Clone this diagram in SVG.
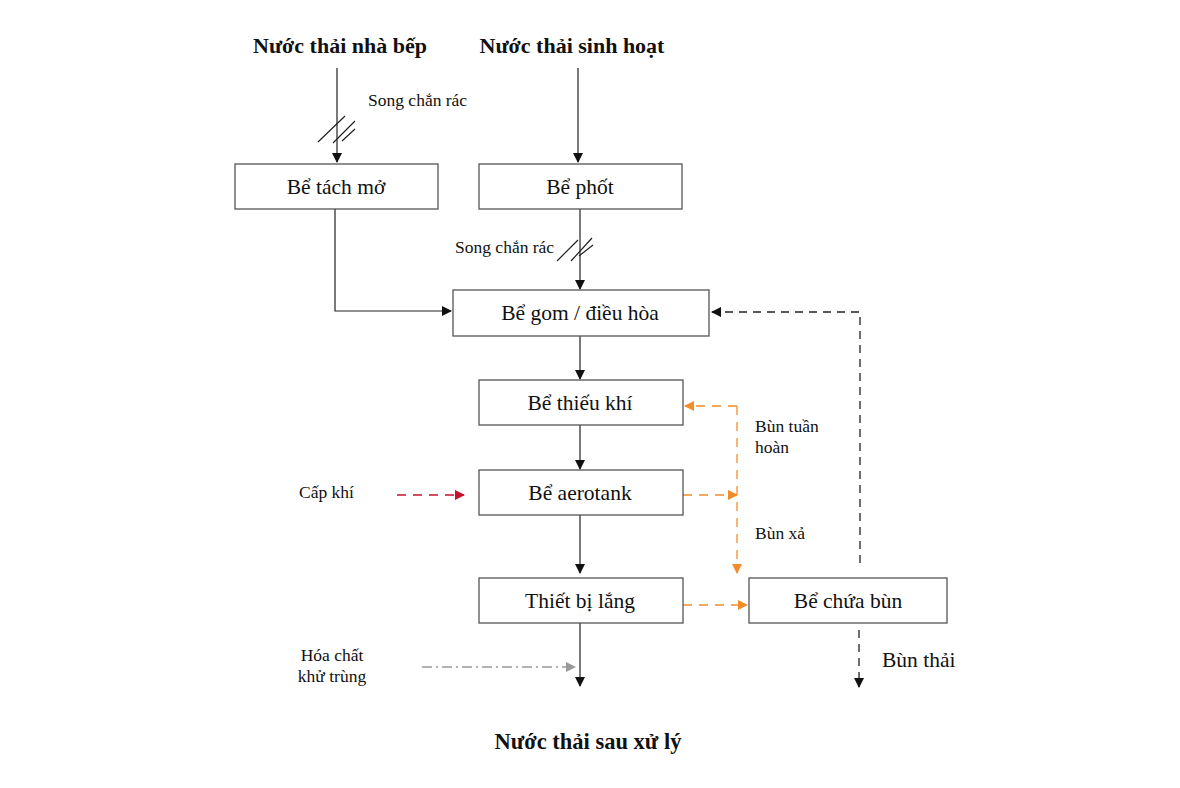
<svg xmlns="http://www.w3.org/2000/svg" width="1180" height="788" viewBox="0 0 1180 788">
<style>
text{font-family:"Liberation Serif","Times New Roman",serif;fill:#111}
.t{font-size:22px;font-weight:bold;text-anchor:middle}
.b{font-size:21.5px;text-anchor:middle}
.s{font-size:17.5px}
.box{fill:#fff;stroke:#555;stroke-width:1.3}
.ln{fill:none;stroke:#222;stroke-width:1.2}
.or{fill:none;stroke:#f28c28;stroke-width:1.3;stroke-dasharray:9 7}
.bd{fill:none;stroke:#222;stroke-width:1.3;stroke-dasharray:8 6}
</style>
<defs>
<marker id="ak" markerWidth="10" markerHeight="10" refX="9" refY="5" orient="auto" markerUnits="userSpaceOnUse"><path d="M0,0 L10,5 L0,10 z" fill="#111"/></marker>
<marker id="ao" markerWidth="10" markerHeight="10" refX="9" refY="5" orient="auto" markerUnits="userSpaceOnUse"><path d="M0,0 L10,5 L0,10 z" fill="#f28c28"/></marker>
<marker id="ar" markerWidth="10" markerHeight="10" refX="9" refY="5" orient="auto" markerUnits="userSpaceOnUse"><path d="M0,0 L10,5 L0,10 z" fill="#c8102e"/></marker>
<marker id="ag" markerWidth="10" markerHeight="10" refX="9" refY="5" orient="auto" markerUnits="userSpaceOnUse"><path d="M0,0 L10,5 L0,10 z" fill="#999"/></marker>
</defs>
<rect width="1180" height="788" fill="#fff"/>
<g id="labels">
<text class="t" x="340" y="53">Nước thải nhà bếp</text>
<text class="t" x="572" y="53">Nước thải sinh hoạt</text>
<text class="t" x="588" y="749" style="font-size:22.5px">Nước thải sau xử lý</text>
<text class="s" x="368" y="106">Song chắn rác</text>
<text class="s" x="455" y="253">Song chắn rác</text>
<text class="s" x="755" y="432">Bùn tuần</text>
<text class="s" x="755" y="453">hoàn</text>
<text class="s" x="755" y="539">Bùn xả</text>
<text class="s" x="299" y="498">Cấp khí</text>
<text class="s" x="332" y="661" text-anchor="middle">Hóa chất</text>
<text class="s" x="332" y="682" text-anchor="middle">khử trùng</text>
<text x="882" y="667" style="font-size:21.5px">Bùn thải</text>
</g>
<g id="connectors">
<path class="ln" d="M337,68 V162" marker-end="url(#ak)"/>
<path class="ln" d="M318,142 L345,116 M333,143 L355,121 M342,141 L355,129"/>
<path class="ln" d="M578,68 V162" marker-end="url(#ak)"/>
<path class="ln" d="M335,209 V311 H451" marker-end="url(#ak)"/>
<path class="ln" d="M580,209 V289" marker-end="url(#ak)"/>
<path class="ln" d="M557,261 L578,240 M571,261 L592,238 M579,256 L593,245"/>
<path class="ln" d="M580,336 V379" marker-end="url(#ak)"/>
<path class="ln" d="M580,425 V469" marker-end="url(#ak)"/>
<path class="ln" d="M580,515 V573" marker-end="url(#ak)"/>
<path class="ln" d="M580,623 V686" marker-end="url(#ak)"/>
<path class="bd" d="M860,563 V312 H712" marker-end="url(#ak)"/>
<path class="bd" d="M859,630 V687" marker-end="url(#ak)"/>
<path class="or" d="M737,406 H685" marker-end="url(#ao)"/>
<path class="or" d="M737,406 V573" marker-end="url(#ao)"/>
<path class="or" d="M683,495 H737" marker-end="url(#ao)"/>
<path class="or" d="M683,605 H747" marker-end="url(#ao)"/>
<path d="M397,495 H464" fill="none" stroke="#c8102e" stroke-width="1.3" stroke-dasharray="9 7" marker-end="url(#ar)"/>
<path d="M422,667 H575" fill="none" stroke="#999" stroke-width="1.3" stroke-dasharray="10 4 2 4" marker-end="url(#ag)"/>
</g>
<g id="n1"><rect class="box" x="235" y="164" width="203" height="45"/><text class="b" x="336" y="194">Bể tách mở</text></g>
<g id="n2"><rect class="box" x="479" y="164" width="203" height="45"/><text class="b" x="580" y="194">Bể phốt</text></g>
<g id="n3"><rect class="box" x="453" y="290" width="256" height="46"/><text class="b" x="580" y="320">Bể gom / điều hòa</text></g>
<g id="n4"><rect class="box" x="479" y="380" width="204" height="45"/><text class="b" x="580" y="410">Bể thiếu khí</text></g>
<g id="n5"><rect class="box" x="479" y="470" width="204" height="45"/><text class="b" x="580" y="500">Bể aerotank</text></g>
<g id="n6"><rect class="box" x="479" y="578" width="204" height="45"/><text class="b" x="580" y="608">Thiết bị lắng</text></g>
<g id="n7"><rect class="box" x="749" y="578" width="198" height="45"/><text class="b" x="848" y="608">Bể chứa bùn</text></g>
</svg>
